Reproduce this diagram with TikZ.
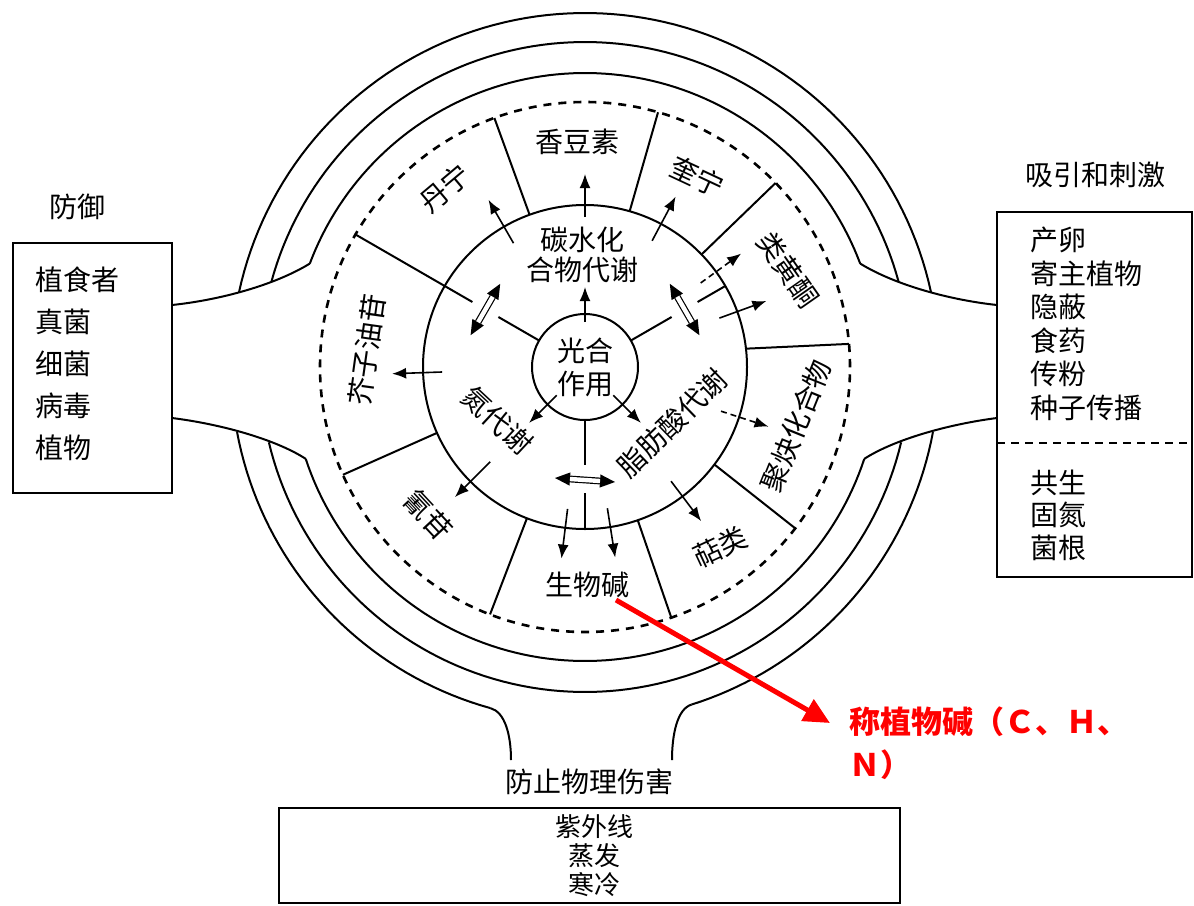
\documentclass[tikz,border=0pt]{standalone}
\usepackage{fontspec}
\setmainfont{Noto Sans CJK SC}
\usetikzlibrary{arrows.meta,calc}
\newcommand{\polc}[3]{\coordinate (#1) at ({585+(#3)*cos(#2)},{367+(#3)*sin(#2)});}
\newcommand{\dblarrow}[3]{%
  \coordinate (#1m1) at ($(#2)!7.5pt!(#3)$);
  \coordinate (#1m2) at ($(#3)!7.5pt!(#2)$);
  \fill (#2) -- ($(#1m1)!3.3pt!90:(#2)$) -- ($(#1m1)!3.3pt!-90:(#2)$) -- cycle;
  \fill (#3) -- ($(#1m2)!3.3pt!90:(#3)$) -- ($(#1m2)!3.3pt!-90:(#3)$) -- cycle;
  \draw[line width=0.6pt, double, double distance=2.2pt] (#1m1) -- (#1m2);
}
\begin{document}
\begin{tikzpicture}[x=0.5pt,y=-0.5pt,
  ring/.style={line width=1pt},
  dring/.style={line width=1.3pt, dash pattern=on 4pt off 3.5pt},
  boxst/.style={draw, line width=1.2pt, inner sep=0},
  arr/.style={line width=0.8pt, -{Latex[length=7pt,width=5.5pt]}},
  darr/.style={arr, dash pattern=on 3pt off 2pt},
  divl/.style={line width=1pt},
  lab/.style={inner sep=0, font=\fontsize{14}{16}\selectfont},
  ]
\useasboundingbox (0,0) rectangle (1194,905);

% ---------- outer rings ----------
\draw[ring] plot[domain=192.2:347.8, samples=90] ({585+354*cos(\x)},{367+354*sin(\x)});
\draw[ring] plot[domain=105.5:169.4, samples=40] ({585+354*cos(\x)},{367+354*sin(\x)});
\draw[ring] plot[domain=10.6:72.5, samples=40] ({585+354*cos(\x)},{367+354*sin(\x)});
\draw[ring] plot[domain=195.2:344.8, samples=90] ({585+325*cos(\x)},{367+325*sin(\x)});
\draw[ring] plot[domain=13.4:166.6, samples=90] ({585+325*cos(\x)},{367+325*sin(\x)});
\draw[ring] plot[domain=200.6:339.4, samples=90] ({585+294*cos(\x)},{367+294*sin(\x)});
\draw[ring] plot[domain=18.2:161.8, samples=90] ({585+294*cos(\x)},{367+294*sin(\x)});

% flares
\coordinate (Lbu) at (172,305); \coordinate (Lbl) at (172,418);
\coordinate (Rbu) at (997,305); \coordinate (Rbl) at (997,418);
\polc{Cul}{200.6}{294} \polc{Cll}{161.8}{294}
\polc{Cur}{339.4}{294} \polc{Clr}{18.2}{294}
\draw[ring] (Lbu) .. controls (220,300) and (275,285) .. (Cul);
\draw[ring] (Lbl) .. controls (220,424) and (275,439) .. (Cll);
\draw[ring] (Rbu) .. controls (950,300) and (895,285) .. (Cur);
\draw[ring] (Rbl) .. controls (950,424) and (895,439) .. (Clr);
\polc{Bl}{105.5}{354} \polc{Br}{72.5}{354}
\coordinate (Ble) at (511,760); \coordinate (Bre) at (672,760);
\draw[ring] (Bl) .. controls (505,712) and (511,735) .. (Ble);
\draw[ring] (Br) .. controls (677,709) and (672,735) .. (Bre);

% ---------- dashed ring, metabolism ring, centre ----------
\node[draw, dring, circle, minimum size=265pt, inner sep=0] (dash) at (585,367) {};
\node[draw, ring, circle, minimum size=162pt, inner sep=0] (meta) at (585,367) {};
\node[draw, ring, circle, minimum size=53pt, inner sep=0, align=center,
      font=\fontsize{14}{16.5}\selectfont] (photo) at (585,367) {光合\\作用};

% spokes and double arrows
\polc{s1a}{210}{53} \polc{s1b}{210}{100} \polc{s1c}{210}{130} \polc{s1d}{210}{266}
\polc{s2a}{330}{53} \polc{s2b}{330}{100} \polc{s2c}{330}{130} \polc{s2d}{330}{162}
\polc{s3a}{90}{53} \polc{s3b}{90}{98} \polc{s3c}{90}{126} \polc{s3d}{90}{162}
\draw[divl] (s1a) -- (s1b); \draw[divl] (s1c) -- (s1d);
\draw[divl] (s2a) -- (s2b); \draw[divl] (s2c) -- (s2d);
\draw[divl] (s3a) -- (s3b); \draw[divl] (s3c) -- (s3d);
\coordinate (d1a) at (500.2,283.8); \coordinate (d1b) at (470.6,335.2);
\coordinate (d2a) at (669.8,283.8); \coordinate (d2b) at (699.4,335.2);
\coordinate (d3a) at (555,478); \coordinate (d3b) at (615,482);
\dblarrow{da}{d1a}{d1b}
\dblarrow{db}{d2a}{d2b}
\dblarrow{dc}{d3a}{d3b}

% sector dividers of the outer ring
\polc{v1a}{250}{162} \polc{v1b}{250}{265}
\polc{v2a}{286}{162} \polc{v2b}{286}{265}
\polc{v3a}{316}{162} \polc{v3b}{316}{265}
\polc{v4a}{353.5}{162} \polc{v4b}{355}{265}
\polc{v5a}{37}{162} \polc{v5b}{37.5}{265}
\polc{v6a}{71}{162} \polc{v6b}{71}{265}
\polc{v7a}{111}{162} \polc{v7b}{111}{265}
\polc{v8a}{156}{162} \polc{v8b}{156}{265}
\foreach \i in {1,...,8} {\draw[divl] (v\i a) -- (v\i b);}

% arrows from centre
\polc{p1a}{270}{45} \polc{p1b}{270}{80}
\polc{p2a}{135}{40} \polc{p2b}{135}{79}
\polc{p3a}{45}{40} \polc{p3b}{45}{79}
\draw[arr] (p1a) -- (p1b);
\draw[arr] (p2a) -- (p2b);
\draw[arr] (p3a) -- (p3b);

% arrows into the outer ring
\polc{q1a}{240}{143} \polc{q1b}{240}{193}
\polc{q2a}{270}{150} \polc{q2b}{270}{193}
\polc{q3a}{298}{143} \polc{q3b}{298}{193}
\polc{q4a}{324}{143} \polc{q4b}{324}{193}
\polc{q5a}{340}{143} \polc{q5b}{340}{193}
\polc{q6a}{18}{143} \polc{q6b}{18}{193}
\polc{q7a}{53}{143} \polc{q7b}{53}{193}
\polc{q8a}{81}{143} \polc{q8b}{81}{193}
\polc{q9a}{97}{143} \polc{q9b}{97}{193}
\polc{q10a}{135}{134} \polc{q10b}{135}{184}
\polc{q11a}{178}{143} \polc{q11b}{178}{193}
\draw[arr] (q1a) -- (q1b);
\draw[arr] (q2a) -- (q2b);
\draw[arr] (q3a) -- (q3b);
\draw[darr] (q4a) -- (q4b);
\draw[arr] (q5a) -- (q5b);
\draw[darr] (q6a) -- (q6b);
\draw[arr] (q7a) -- (q7b);
\draw[arr] (q8a) -- (q8b);
\draw[arr] (q9a) -- (q9b);
\draw[arr] (q10a) -- (q10b);
\draw[arr] (q11a) -- (q11b);

% ---------- labels in rings ----------
\node[lab, align=center, font=\fontsize{14}{15}\selectfont] (carb) at (582,255) {碳水化\\合物代谢};
\node[lab, rotate=-43] (nmet) at (497,420) {氮代谢};
\node[lab, rotate=44] (fmet) at (672,423) {脂肪酸代谢};
\node[lab] (cou) at (577,142) {香豆素};
\node[lab, rotate=40] (tan) at (445,188) {丹宁};
\node[lab, rotate=-25] (qui) at (697,177) {奎宁};
\node[lab, rotate=-55] (fla) at (788,270) {类黄酮};
\node[lab, rotate=68] (pol) at (796,426) {聚炔化合物};
\node[lab, rotate=25] (ter) at (720,547) {萜类};
\node[lab] (alk) at (587,585) {生物碱};
\node[lab, rotate=-47] (cya) at (428,515) {氰苷};
\node[lab, rotate=82] (glu) at (367,350) {芥子油苷};

% ---------- boxes ----------
\node[lab] (defT) at (77,207) {防御};
\node[boxst, minimum width=79.5pt, minimum height=125pt] (boxL) at (92.5,368) {};
\node[lab, anchor=west, align=left, font=\fontsize{14}{21}\selectfont] (defL) at (35,364)
  {植食者\\真菌\\细菌\\病毒\\植物};

\node[lab] (attT) at (1095,175) {吸引和刺激};
\node[boxst, minimum width=97.5pt, minimum height=182.5pt] (boxR) at (1094.5,394.5) {};
\coordinate (sepL) at (997,443); \coordinate (sepR) at (1192,443);
\draw[line width=1.2pt, dash pattern=on 4pt off 3pt] (sepL) -- (sepR);
\node[lab, anchor=west, align=left, font=\fontsize{14}{16.75}\selectfont] (attL) at (1030,324)
  {产卵\\寄主植物\\隐蔽\\食药\\传粉\\种子传播};
\node[lab, anchor=west, align=left, font=\fontsize{14}{16.25}\selectfont] (symL) at (1030,515)
  {共生\\固氮\\菌根};

\node[lab] (phyT) at (589,782) {防止物理伤害};
\node[boxst, minimum width=310.5pt, minimum height=47.5pt] (boxB) at (589.5,855.5) {};
\node[lab, align=center, font=\fontsize{13}{14.5}\selectfont] (phyL) at (594,856)
  {紫外线\\蒸发\\寒冷};

% ---------- red annotation ----------
\coordinate (rs) at (616,600); \coordinate (rt) at (830,723);
\draw[red, line width=2.5pt, -{Triangle[length=13pt,width=12pt]}] (rs) -- (rt);
\node[lab, anchor=west, align=left, text=red, font=\fontsize{15.5}{21.5}\selectfont\bfseries] (note) at (849,743)
  {称植物碱（Ｃ、Ｈ、\\Ｎ）};
\end{tikzpicture}
\end{document}
